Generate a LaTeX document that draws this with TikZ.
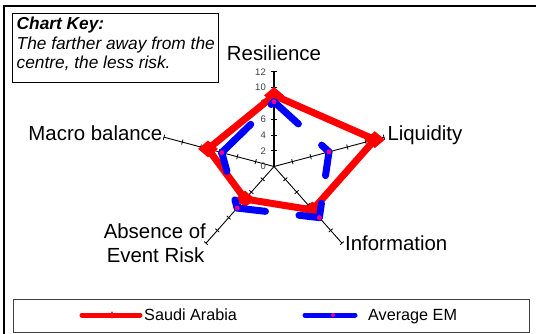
\documentclass[tikz,border=0pt]{standalone}
\usepackage{fontspec}
\setmainfont{Liberation Sans}
\usetikzlibrary{shapes.geometric,calc}
\definecolor{tickgray}{HTML}{404040}
\definecolor{framegray}{HTML}{404040}
\begin{document}
\begin{tikzpicture}[x=1pt,y=-1pt,
  axlbl/.style={font=\fontsize{20.4}{24}\selectfont, inner sep=0},
  keytxt/.style={font=\itshape\fontsize{17.3}{20}\selectfont, inner sep=0, anchor=base west},
  legtxt/.style={font=\fontsize{16.2}{19}\selectfont, inner sep=0, anchor=base west},
  ticklbl/.style={font=\fontsize{9.5}{10}\selectfont, text=tickgray, inner sep=0, anchor=east},
  axisline/.style={black, line width=0.9pt},
  tickmark/.style={black, line width=0.8pt},
  redline/.style={red, line width=7pt, line join=round},
  redmark/.style={diamond, fill=red, draw=none, minimum width=20pt, minimum height=17pt, inner sep=0},
  bluedash/.style={blue, line width=7pt, line cap=round},
  magdot/.style={circle, fill=magenta, draw=none, minimum size=5pt, inner sep=0},
]
\useasboundingbox (0,0) rectangle (536,333);
\fill[white] (0,0) rectangle (536,333);
\def\cx{274}
\def\cy{166.5}
\def\sx{9.64}
\def\sy{7.9}

% outer frame (cropped)
\coordinate (fBL) at (4,334);
\coordinate (fTL) at (4,6);
\coordinate (fTR) at (537,6);
\draw[black, line width=1.2pt] (fBL) -- (fTL) -- (fTR);

% chart key box
\node[draw=black, line width=0.9pt, minimum width=206pt, minimum height=69pt, inner sep=0, anchor=north west] (keybox) at (12,13) {};
\node[keytxt] (key1) at (16.5,29.3) {\bfseries Chart Key:};
\node[keytxt] (key2) at (16.5,49.5) {The farther away from the};
\node[keytxt] (key3) at (16.5,68.5) {centre, the less risk.};

% axes
\coordinate (O) at (\cx,\cy);
\foreach \a in {18,-54,-126,162} {
  \draw[axisline] (O) -- ({\cx+\sx*12*cos(\a)},{\cy-\sy*12*sin(\a)}) coordinate (end\a);
}
\draw[black, line width=1.8pt] (O) -- ({\cx},{\cy-\sy*12}) coordinate (end90);
\foreach \a in {90,18,-54,-126,162} {
  \foreach \v in {2,4,...,12} {
    \coordinate (t) at ({\cx+\sx*\v*cos(\a)},{\cy-\sy*\v*sin(\a)});
    \draw[tickmark] ($(t)!2.6pt!90:(O)$) -- ($(t)!2.6pt!-90:(O)$);
  }
}
\foreach \v in {0,2,...,12} {
  \node[ticklbl] (tl\v) at (266,{\cy-\sy*\v}) {\v};
}

% axis labels
\node[axlbl, anchor=base] (lRes) at (274,60) {Resilience};
\node[axlbl, anchor=base west] (lLiq) at (387.3,140.7) {Liquidity};
\node[axlbl, anchor=base west] (lInf) at (345,250.7) {Information};
\node[axlbl, anchor=base east] (lMac) at (162.5,140.7) {Macro balance};
\node[axlbl, anchor=base] (lAbs1) at (154.8,238.5) {Absence of};
\node[axlbl, anchor=base] (lAbs2) at (155.5,262.5) {Event Risk};

% Saudi Arabia series
\coordinate (S1) at ({\cx},{\cy-\sy*9});
\coordinate (S2) at ({\cx+\sx*11*cos(18)},{\cy-\sy*11*sin(18)});
\coordinate (S3) at ({\cx+\sx*6.8*cos(-54)},{\cy-\sy*6.8*sin(-54)});
\coordinate (S4) at ({\cx+\sx*5.1*cos(-126)},{\cy-\sy*5.1*sin(-126)});
\coordinate (S5) at ({\cx+\sx*7.2*cos(162)},{\cy-\sy*7.2*sin(162)});
\draw[redline] (S1) -- (S2) -- (S3) -- (S4) -- (S5) -- cycle;
\foreach \i in {1,...,5} { \node[redmark] (mS\i) at (S\i) {}; }

% Average EM series
\coordinate (E1) at ({\cx},{\cy-\sy*8.2});
\coordinate (E2) at ({\cx+\sx*6.0*cos(18)},{\cy-\sy*6.0*sin(18)});
\coordinate (E3) at ({\cx+\sx*8*cos(-54)},{\cy-\sy*8*sin(-54)});
\coordinate (E4) at ({\cx+\sx*6.5*cos(-126)},{\cy-\sy*6.5*sin(-126)});
\coordinate (E5) at ({\cx+\sx*5.7*cos(162)},{\cy-\sy*5.7*sin(162)});
\draw[bluedash] (E1) -- ($(E1)!33pt!(E2)$);
\draw[bluedash] (E2) -- ($(E2)!10pt!(E1)$);
\draw[bluedash] (E2) -- ($(E2)!24pt!(E3)$);
\draw[bluedash] (E3) -- ($(E3)!14.5pt!(E2)$);
\draw[bluedash] (E3) -- ($(E3)!20.5pt!(E4)$);
\draw[bluedash] (E4) -- ($(E4)!28.5pt!(E3)$);
\draw[bluedash] (E4) -- ($(E4)!8.5pt!(E5)$);
\draw[bluedash] (E5) -- ($(E5)!19.5pt!(E4)$);
\draw[bluedash] (E5) -- ($(E5)!40.5pt!(E1)$);
\draw[bluedash] (E1) -- ($(E1)!4pt!(E5)$);
\foreach \i in {1,...,5} { \node[magdot] (mE\i) at (E\i) {}; }

% legend
\node[draw=framegray, line width=0.9pt, minimum width=516pt, minimum height=33pt, inner sep=0, anchor=north west] (legbox) at (13,299) {};
\coordinate (lr1) at (82,315);
\coordinate (lr2) at (140,315);
\draw[red, line width=5pt, line cap=round] (lr1) -- (lr2);
\node[diamond, fill=red, minimum width=4pt, minimum height=8pt, inner sep=0] (lrm) at (112,315) {};
\node[legtxt] (legS) at (144,320.7) {Saudi Arabia};
\coordinate (lb1) at (305,315);
\coordinate (lb2) at (355,315);
\draw[blue, line width=5pt, line cap=round] (lb1) -- (lb2);
\node[magdot, minimum size=4pt] (lbm) at (333,315) {};
\node[legtxt] (legE) at (368,320.7) {Average EM};
\end{tikzpicture}
\end{document}
